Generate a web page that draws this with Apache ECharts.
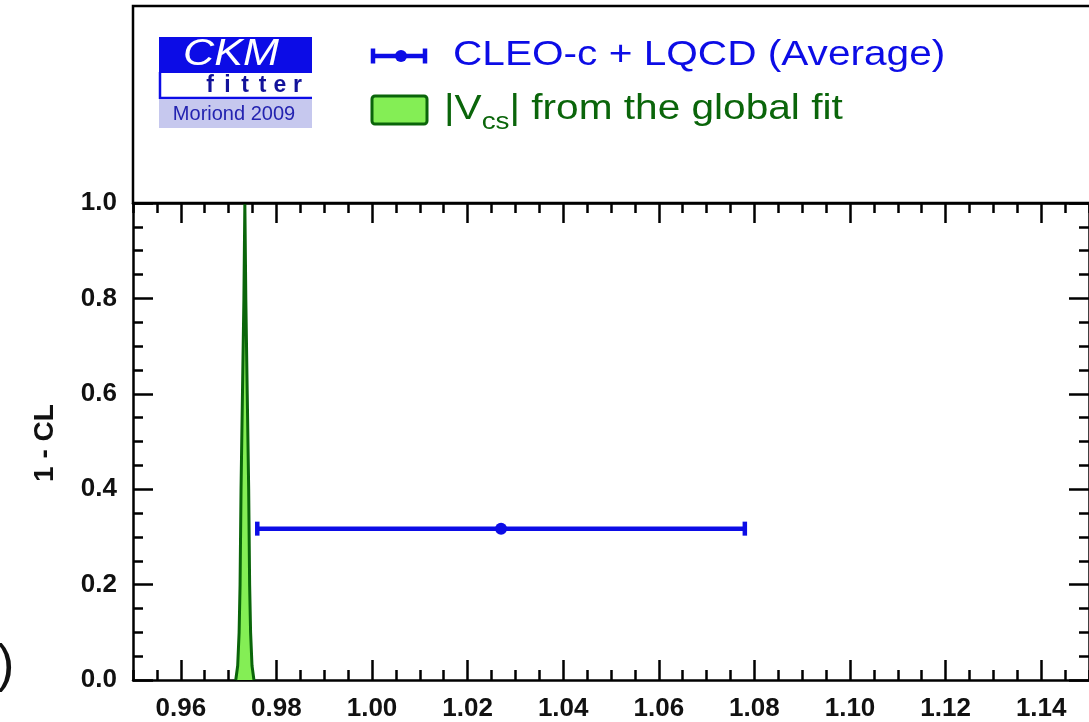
<!DOCTYPE html>
<html>
<head>
<meta charset="utf-8">
<script src="https://cdn.jsdelivr.net/npm/echarts@6/dist/echarts.min.js"></script>
<style>
  html, body { margin: 0; padding: 0; background: #ffffff; }
  #chart { width: 1089px; height: 722px; }
</style>
</head>
<body>
<div id="chart"></div>
<script>
// |Vcs| profile from the global fit (1 - CL versus |Vcs|)
const fitVcs = [0.9715, 0.9719, 0.9722, 0.9724, 0.9726, 0.9729, 0.9732, 0.9734,
                0.9736, 0.9739, 0.9742, 0.9744, 0.9746, 0.9749, 0.9753];
const fitCL  = [0.00, 0.03, 0.10, 0.20, 0.40, 0.60, 0.80, 1.00,
                0.80, 0.60, 0.40, 0.20, 0.10, 0.03, 0.00];

// CLEO-c + LQCD average: central value and 1-sigma interval at 1 - CL = 0.3173
const avgCentral = 1.027;
const avgLow = 0.976;
const avgHigh = 1.078;
const avgCL = 0.3173;

// labelled ticks on the |Vcs| axis
const xMajorTicks = [0.96, 0.98, 1.00, 1.02, 1.04, 1.06, 1.08, 1.10, 1.12, 1.14];

const BLUE = '#0c0ce6';
const DARK_GREEN = '#0a650a';
const LIGHT_GREEN = '#84ee55';
const FONT = '"Liberation Sans", Arial, Helvetica, sans-serif';

const chart = echarts.init(document.getElementById('chart'), null, { renderer: 'canvas' });

const tickLine = { color: '#000', width: 2.5 };

function majorXAxis(position, withLabels) {
  return {
    type: 'value', gridIndex: 0, position: position,
    min: 0.95, max: 1.15,
    axisLine: { show: true, onZero: false, lineStyle: { color: '#000', width: 2.5 } },
    axisTick: { show: true, inside: true, length: 20, customValues: xMajorTicks, lineStyle: tickLine },
    axisLabel: {
      show: withLabels, customValues: xMajorTicks, margin: 16,
      formatter: v => v.toFixed(2),
      fontFamily: FONT, fontWeight: 'bold', fontSize: 26, color: '#111'
    },
    splitLine: { show: false }
  };
}
function minorXAxis(position) {
  return {
    type: 'value', gridIndex: 0, position: position,
    min: 0.95, max: 1.15, interval: 0.005,
    axisLine: { show: false, onZero: false },
    axisTick: { show: true, inside: true, length: 10, lineStyle: tickLine },
    axisLabel: { show: false },
    splitLine: { show: false }
  };
}
function yAxisDef(position, withLabels) {
  return {
    type: 'value', gridIndex: 0, position: position,
    min: 0, max: 1, interval: 0.2,
    axisLine: { show: true, onZero: false, lineStyle: { color: '#000', width: 2.5 } },
    axisTick: { show: true, inside: true, length: 20, lineStyle: tickLine },
    minorTick: { show: true, splitNumber: 4, length: 10, lineStyle: tickLine },
    axisLabel: {
      show: withLabels, margin: 16,
      formatter: v => v.toFixed(1),
      fontFamily: FONT, fontWeight: 'bold', fontSize: 26, color: '#111'
    },
    splitLine: { show: false },
    minorSplitLine: { show: false }
  };
}

// error-bar legend icon: bar, end caps and central dot
const errIcon = {
  type: 'group',
  children: [
    { type: 'line', shape: { x1: 372, y1: 56, x2: 426, y2: 56 }, style: { stroke: BLUE, lineWidth: 4.5 } },
    { type: 'line', shape: { x1: 373, y1: 48.5, x2: 373, y2: 63.5 }, style: { stroke: BLUE, lineWidth: 4.5 } },
    { type: 'line', shape: { x1: 425, y1: 48.5, x2: 425, y2: 63.5 }, style: { stroke: BLUE, lineWidth: 4.5 } },
    { type: 'circle', shape: { cx: 401, cy: 56, r: 6 }, style: { fill: BLUE } }
  ]
};

// "fitter" is set with wide letter spacing, one glyph at a time
const fitterLetters = 'fitter'.split('').map((ch, i) => ({
  type: 'text',
  style: {
    text: ch, x: 210 + i * 17.5, y: 86, align: 'center', verticalAlign: 'middle',
    font: 'bold 23px ' + FONT, fill: '#12129a'
  }
}));

const graphic = [
  // upper frame holding the legend
  { type: 'rect', shape: { x: 133, y: 6, width: 980, height: 197 },
    style: { fill: 'none', stroke: '#000', lineWidth: 2.5 }, z: 10 },
  // CKMfitter logo
  { type: 'rect', shape: { x: 159, y: 37, width: 153, height: 36 }, style: { fill: BLUE } },
  { type: 'line', shape: { x1: 160, y1: 72, x2: 160, y2: 99 }, style: { stroke: BLUE, lineWidth: 2.5 } },
  { type: 'line', shape: { x1: 159, y1: 98, x2: 312, y2: 98 }, style: { stroke: BLUE, lineWidth: 2.5 } },
  { type: 'text', x: 231, y: 55, scaleX: 1.2,
    style: { text: 'CKM', x: 0, y: 0, align: 'center', verticalAlign: 'middle',
             font: 'italic 36px ' + FONT, fill: '#ffffff' } },
  ...fitterLetters,
  { type: 'rect', shape: { x: 159, y: 100, width: 153, height: 28 }, style: { fill: '#c6c8ee' } },
  { type: 'text', style: { text: 'Moriond 2009', x: 234, y: 114, align: 'center', verticalAlign: 'middle',
                           font: '20px ' + FONT, fill: '#2323b0' } },
  // legend
  errIcon,
  { type: 'text', x: 453, y: 55, scaleX: 1.16,
    style: { text: 'CLEO-c + LQCD (Average)', x: 0, y: 0, align: 'left', verticalAlign: 'middle',
             font: '35px ' + FONT, fill: BLUE } },
  { type: 'rect', shape: { x: 372, y: 96, width: 55, height: 28, r: 3 },
    style: { fill: LIGHT_GREEN, stroke: DARK_GREEN, lineWidth: 3 } },
  { type: 'text', x: 444, y: 109, scaleX: 1.16,
    style: {
      text: '{t||V}{s|cs}{t|| from the global fit}', x: 0, y: 0, align: 'left', verticalAlign: 'middle',
      rich: {
        t: { font: '35px ' + FONT, fill: DARK_GREEN, verticalAlign: 'middle' },
        s: { font: '24px ' + FONT, fill: DARK_GREEN, padding: [26, 0, 0, 0] }
      }
    } },
  // y-axis title
  { type: 'text', x: 45, y: 443, rotation: Math.PI / 2,
    style: { text: '1 - CL', x: 0, y: 0, align: 'center', verticalAlign: 'middle',
             font: 'bold 28px ' + FONT, fill: '#111' } },
  // closing parenthesis at the left edge
  { type: 'text', style: { text: ')', x: -3, y: 667, align: 'left', verticalAlign: 'middle',
                           font: '52px ' + FONT, fill: '#111' } }
];

const option = {
  backgroundColor: '#ffffff',
  animation: false,
  grid: { left: 133, top: 203, width: 958, height: 480, containLabel: false },
  xAxis: [
    majorXAxis('bottom', true),
    minorXAxis('bottom'),
    majorXAxis('top', false),
    minorXAxis('top')
  ],
  yAxis: [
    yAxisDef('left', true),
    yAxisDef('right', false)
  ],
  graphic: graphic,
  series: [
    {
      name: '|Vcs| from the global fit',
      type: 'line', xAxisIndex: 0, yAxisIndex: 0,
      data: fitVcs.map((x, i) => [x, fitCL[i]]),
      showSymbol: false, symbol: 'none', smooth: false,
      lineStyle: { color: DARK_GREEN, width: 3 },
      areaStyle: { color: LIGHT_GREEN, opacity: 1 },
      z: 3
    },
    {
      name: 'CLEO-c + LQCD (Average)',
      type: 'custom', xAxisIndex: 0, yAxisIndex: 0,
      data: [[avgLow, avgHigh, avgCentral, avgCL]],
      encode: { x: [0, 1, 2], y: 3 },
      renderItem: function (params, api) {
        const y = api.value(3);
        const lo = api.coord([api.value(0), y]);
        const hi = api.coord([api.value(1), y]);
        const c = api.coord([api.value(2), y]);
        const capHalf = 7;
        const st = { stroke: BLUE, lineWidth: 4.5 };
        return {
          type: 'group',
          children: [
            { type: 'line', shape: { x1: lo[0], y1: lo[1], x2: hi[0], y2: hi[1] }, style: st },
            { type: 'line', shape: { x1: lo[0], y1: lo[1] - capHalf, x2: lo[0], y2: lo[1] + capHalf }, style: st },
            { type: 'line', shape: { x1: hi[0], y1: hi[1] - capHalf, x2: hi[0], y2: hi[1] + capHalf }, style: st },
            { type: 'circle', shape: { cx: c[0], cy: c[1], r: 6 }, style: { fill: BLUE } }
          ]
        };
      },
      z: 4
    }
  ]
};

chart.setOption(option);
</script>
</body>
</html>
